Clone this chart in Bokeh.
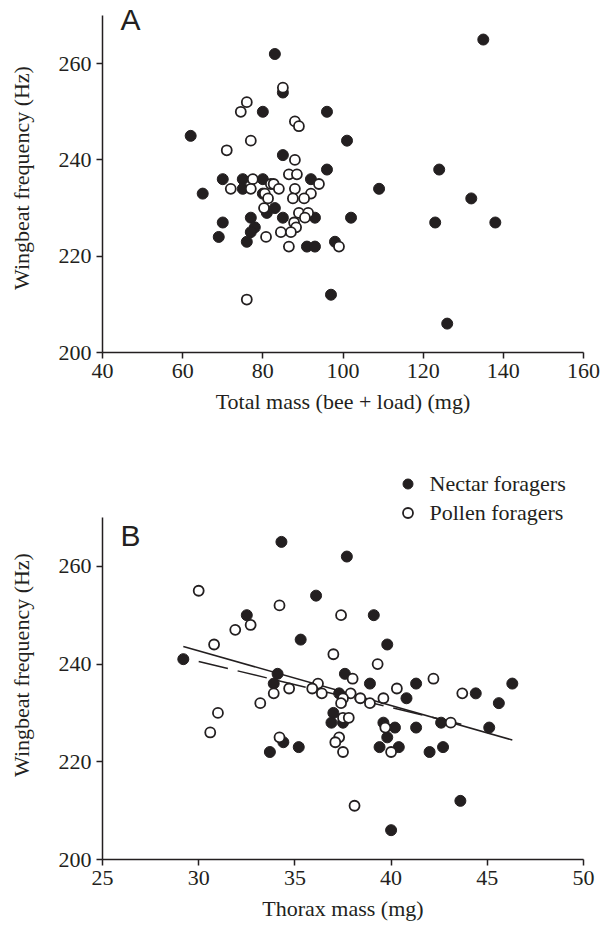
import numpy as np
from bokeh.plotting import figure
from bokeh.layouts import column
from bokeh.models import Range1d, FixedTicker, Label, Legend, LegendItem
from bokeh.embed import file_html
from bokeh.resources import INLINE

# ---- Panel A: total mass vs wingbeat frequency ----
nectar_total_mass = [83, 85, 80, 96, 62, 101, 85, 96, 70, 75, 80, 92, 65, 75, 80, 83, 81, 77, 85, 93,
                     102, 70, 78, 77, 69, 76, 98, 91, 93, 97, 135, 124, 109, 132, 123, 138, 126]
nectar_freq_a = [262, 254, 250, 250, 245, 244, 241, 238, 236, 236, 236, 236, 233, 234, 233, 230, 229, 228, 228, 228,
                 228, 227, 226, 225, 224, 223, 223, 222, 222, 212, 265, 238, 234, 232, 227, 227, 206]
pollen_total_mass = [85, 76, 74.5, 88, 89, 77, 71, 88, 86.5, 88.5, 77.5, 94, 72, 77, 82, 82.7, 84, 88, 92, 80.5,
                     87.5, 90.3, 81.3, 80.3, 89, 91.3, 90.5, 87.8, 88.3, 84.5, 87, 80.8, 86.5, 99, 76]
pollen_freq_a = [255, 252, 250, 248, 247, 244, 242, 240, 237, 237, 236, 235, 234, 234, 235, 235, 234, 234, 233, 233,
                 232, 232, 232, 230, 229, 229, 228, 227, 226, 225, 225, 224, 222, 222, 211]

# ---- Panel B: thorax mass vs wingbeat frequency ----
nectar_thorax = [34.3, 37.7, 36.1, 32.5, 39.1, 35.3, 39.8, 29.2, 34.1, 37.6, 33.9, 38.9, 41.3, 37.3, 44.4, 40.8,
                 37.0, 36.9, 37.5, 39.6, 40.2, 41.3, 39.8, 34.4, 35.2, 33.7, 39.4, 40.4, 42.6, 45.1, 45.6, 46.3,
                 42.7, 42.0, 43.6, 40.0]
nectar_freq_b = [265, 262, 254, 250, 250, 245, 244, 241, 238, 238, 236, 236, 236, 234, 234, 233,
                 230, 228, 228, 228, 227, 227, 225, 224, 223, 222, 223, 223, 228, 227, 232, 236,
                 223, 222, 212, 206]
pollen_thorax = [30.0, 34.2, 37.4, 31.9, 32.7, 30.8, 37.0, 39.3, 38.0, 36.2, 34.7, 33.9, 35.9, 36.4, 37.9, 40.3,
                 37.5, 38.4, 38.9, 39.6, 37.4, 33.2, 31.0, 37.5, 37.8, 39.7, 30.6, 34.2, 37.3, 37.1, 37.5, 40.0,
                 38.1, 42.2, 43.7, 43.1]
pollen_freq_b = [255, 252, 250, 247, 248, 244, 242, 240, 237, 236, 235, 234, 235, 234, 234, 235,
                 233, 233, 232, 233, 232, 232, 230, 229, 229, 227, 226, 225, 225, 224, 222, 222,
                 211, 237, 234, 228]

# regression lines: (intercept, slope)
nectar_fit = (276.3, -1.12)
pollen_fit = (268.7, -0.94)

# tick values
a_xticks = [40, 60, 80, 100, 120, 140, 160]
b_xticks = [25, 30, 35, 40, 45, 50]
yticks = [200, 220, 240, 260]

INK = "#231f20"
SERIF = "Liberation Serif"
SANS = "Liberation Sans"
FS = "22px"


def style(p, xticks):
    p.xaxis.ticker = FixedTicker(ticks=xticks)
    p.yaxis.ticker = FixedTicker(ticks=yticks)
    p.yaxis.bounds = (200, 270)
    for ax in (p.xaxis, p.yaxis):
        ax.axis_line_color = INK
        ax.axis_line_width = 1.5
        ax.major_tick_line_color = INK
        ax.major_tick_line_width = 1.5
        ax.major_tick_out = 6
        ax.major_tick_in = 0
        ax.minor_tick_line_color = None
        ax.major_label_text_font = SERIF
        ax.major_label_text_font_size = FS
        ax.major_label_text_color = INK
        ax.axis_label_text_font = SERIF
        ax.axis_label_text_font_size = FS
        ax.axis_label_text_font_style = "normal"
        ax.axis_label_text_color = INK
        ax.major_label_standoff = 5
    p.yaxis.axis_label_standoff = 22
    p.xaxis.axis_label_standoff = 8
    p.xgrid.grid_line_color = None
    p.ygrid.grid_line_color = None
    p.outline_line_color = None
    p.background_fill_color = "white"
    p.border_fill_color = "white"


pA = figure(width=608, height=468, x_range=Range1d(40, 160), y_range=Range1d(200, 272.49),
            output_backend="svg", toolbar_location=None,
            min_border_left=102, min_border_right=25, min_border_top=3, min_border_bottom=116)
style(pA, a_xticks)
pA.xaxis.axis_label = "Total mass (bee + load) (mg)"
pA.yaxis.axis_label = "Wingbeat frequency (Hz)"
pA.scatter(nectar_total_mass, nectar_freq_a, size=11, marker="circle",
           fill_color=INK, line_color=INK, line_width=1)
pA.scatter(pollen_total_mass, pollen_freq_a, size=10, marker="circle",
           fill_color="white", line_color=INK, line_width=1.8)
pA.add_layout(Label(x=44.5, y=269.2, text="A", text_font=SANS, text_font_size="30px",
                    text_color=INK, text_baseline="middle"))

pB = figure(width=608, height=468, x_range=Range1d(25, 50), y_range=Range1d(200, 279.61),
            output_backend="svg", toolbar_location=None,
            min_border_left=102, min_border_right=25, min_border_top=2, min_border_bottom=77)
style(pB, b_xticks)
pB.xaxis.axis_label = "Thorax mass (mg)"
pB.yaxis.axis_label = "Wingbeat frequency (Hz)"

nx = np.array([min(nectar_thorax), max(nectar_thorax)])
px = np.array([min(pollen_thorax), max(pollen_thorax)])
pB.line(nx, nectar_fit[0] + nectar_fit[1] * nx, line_color=INK, line_width=1.5)
pB.line(px, pollen_fit[0] + pollen_fit[1] * px, line_color=INK, line_width=1.5, line_dash="30 10")

rn = pB.scatter(nectar_thorax, nectar_freq_b, size=11, marker="circle",
                fill_color=INK, line_color=INK, line_width=1)
rp = pB.scatter(pollen_thorax, pollen_freq_b, size=10, marker="circle",
                fill_color="white", line_color=INK, line_width=1.8)
pB.add_layout(Label(x=25.94, y=266.3, text="B", text_font=SANS, text_font_size="30px",
                    text_color=INK, text_baseline="middle"))

legend = Legend(items=[LegendItem(label="Nectar foragers", renderers=[rn]),
                       LegendItem(label="Pollen foragers", renderers=[rp])],
                location=(292.5, 333.5), orientation="vertical",
                label_text_font=SERIF, label_text_font_size="22px", label_text_color=INK,
                glyph_width=25, glyph_height=25, label_height=25, label_standoff=10,
                spacing=3, padding=0, margin=0,
                border_line_color=None, background_fill_alpha=0)
pB.add_layout(legend)

layout = column(pA, pB, spacing=0)
open("out.html", "w").write(file_html(layout, INLINE))
